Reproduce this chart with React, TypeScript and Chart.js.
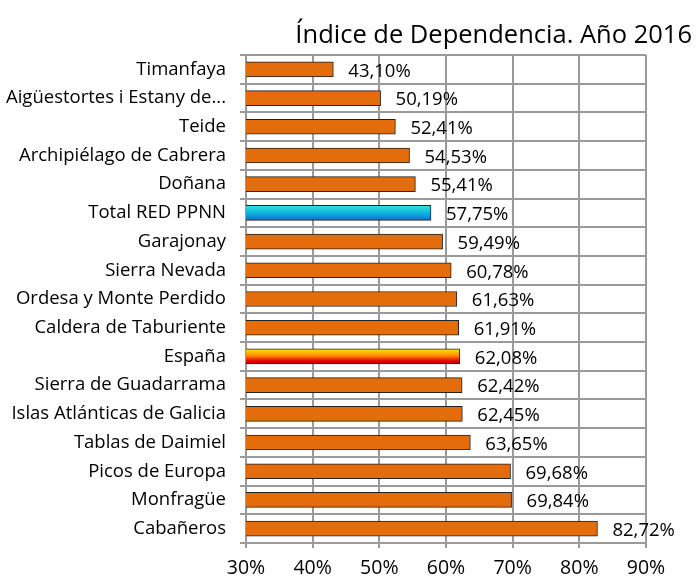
import React, { useEffect, useRef } from "react";
import { Chart, registerables } from "chart.js";

Chart.register(...registerables);

const categories = [
  "Timanfaya",
  "Aigüestortes i Estany de...",
  "Teide",
  "Archipiélago de Cabrera",
  "Doñana",
  "Total RED PPNN",
  "Garajonay",
  "Sierra Nevada",
  "Ordesa y Monte Perdido",
  "Caldera de Taburiente",
  "España",
  "Sierra de Guadarrama",
  "Islas Atlánticas de Galicia",
  "Tablas de Daimiel",
  "Picos de Europa",
  "Monfragüe",
  "Cabañeros",
];
const values = [43.1, 50.19, 52.41, 54.53, 55.41, 57.75, 59.49, 60.78, 61.63, 61.91, 62.08, 62.42, 62.45, 63.65, 69.68, 69.84, 82.72];
const title = "Índice de Dependencia. Año 2016";
const xMin = 30;
const xMax = 90;
const xStep = 10;

const FONT = "'Open Sans', sans-serif";
const BAR_T = 15;

export default function App() {
  const ref = useRef<HTMLCanvasElement | null>(null);
  useEffect(() => {
    document.body.style.margin = "0";
    const canvas = ref.current!;
    const labelPlugin = {
      id: "valueLabels",
      afterDatasetsDraw(chart: any) {
        const ctx = chart.ctx;
        const meta = chart.getDatasetMeta(0);
        ctx.save();
        ctx.font = `18.5px ${FONT}`;
        ctx.fillStyle = "#000";
        ctx.textAlign = "left";
        ctx.textBaseline = "middle";
        meta.data.forEach((el: any, i: number) => {
          const v = values[i];
          ctx.fillText(v.toFixed(2).replace(".", ",") + "%", el.x + 15, el.y + 2);
        });
        ctx.font = `25.5px ${FONT}`;
        ctx.textAlign = "right";
        ctx.textBaseline = "alphabetic";
        ctx.fillText(title, 692, 43);
        ctx.restore();
      },
    };
    const bg = (c: any) => {
      const chart = c.chart;
      const i = c.dataIndex;
      const name = categories[i];
      if (name !== "Total RED PPNN" && name !== "España") return "#E46C0A";
      const ys = chart.scales && chart.scales.y;
      if (!ys || i === undefined) return "#E46C0A";
      const yc = ys.getPixelForValue(i);
      const y0 = yc - BAR_T / 2;
      const y1 = yc + BAR_T / 2;
      const g = chart.ctx.createLinearGradient(0, y0, 0, y1);
      if (name === "Total RED PPNN") {
        g.addColorStop(0, "#2EE6E0");
        g.addColorStop(0.5, "#14B4DC");
        g.addColorStop(1, "#0A6ED2");
      } else {
        g.addColorStop(0, "#FFE800");
        g.addColorStop(0.45, "#FF8C00");
        g.addColorStop(0.8, "#E80000");
        g.addColorStop(1, "#B00000");
      }
      return g;
    };
    const chart = new Chart(canvas, {
      type: "bar",
      data: {
        labels: categories,
        datasets: [
          {
            data: values,
            backgroundColor: bg as any,
            borderColor: "#222",
            borderWidth: 1,
            borderSkipped: false,
            barThickness: BAR_T,
          },
        ],
      },
      options: {
        indexAxis: "y",
        animation: false,
        responsive: false,
        devicePixelRatio: 1,
        layout: { padding: { top: 55, right: 50, left: 0, bottom: 0 } },
        plugins: {
          legend: { display: false },
          tooltip: { enabled: false },
          title: { display: false },
        },
        scales: {
          x: {
            min: xMin,
            max: xMax,
            afterFit: (s: any) => {
              s.height = 34;
            },
            ticks: {
              stepSize: xStep,
              color: "#000",
              font: { family: FONT, size: 19.5 },
              padding: 9,
              callback: (v: any) => v + "%",
            },
            grid: { color: "#9a9a9a", lineWidth: 2, tickLength: 5 },
            border: { color: "#9a9a9a", width: 2 },
          },
          y: {
            afterFit: (s: any) => {
              s.width = 246;
            },
            ticks: {
              color: "#000",
              font: { family: FONT, size: 18.5 },
              padding: 14,
              autoSkip: false,
            },
            grid: { color: "#9a9a9a", lineWidth: 2, tickLength: 6, offset: true },
            border: { color: "#9a9a9a", width: 2 },
          },
        },
      },
      plugins: [labelPlugin],
    });
    return () => chart.destroy();
  }, []);
  return <canvas ref={ref} width={696} height={577} style={{ display: "block" }} />;
}
